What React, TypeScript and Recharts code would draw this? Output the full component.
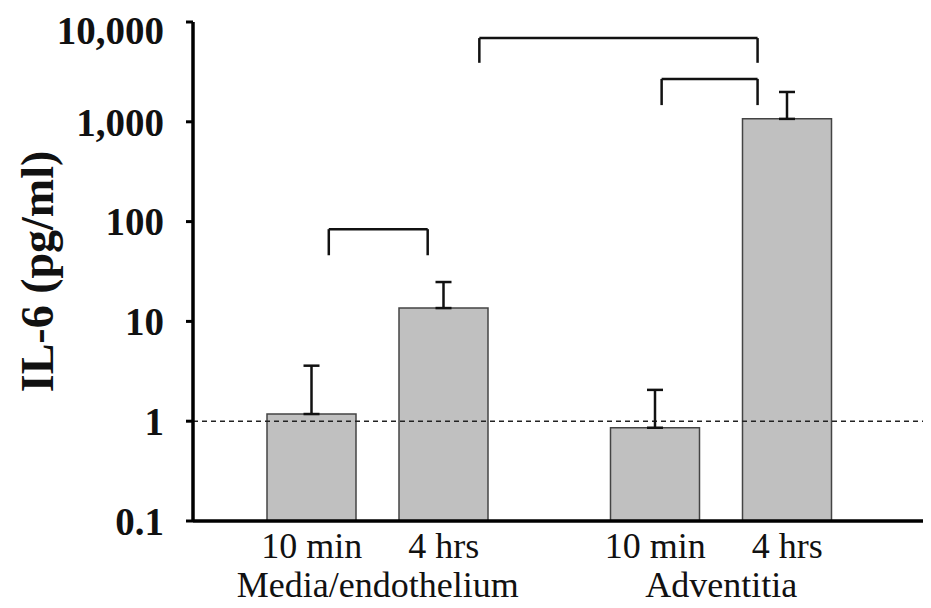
import { ComposedChart, Bar, XAxis, YAxis, ErrorBar, ReferenceLine } from "recharts";

const groups = ["Media/endothelium", "Adventitia"];
const timeLabels = ["10 min", "4 hrs"];
const min10 = [1.18, 0.86];
const hrs4 = [13.6, 1070];
const min10Upper = [3.6, 2.06];
const hrs4Upper = [24.8, 1990];
const yTicks = [0.1, 1, 10, 100, 1000, 10000];

// significance brackets: x as % of plot width, y in pg/ml
const bracketLeft = [18.4, 38.8, 63.5];
const bracketRight = [31.8, 76.5, 76.5];
const bracketTop = [84, 6900, 2690];
const bracketFoot = [46, 3900, 1470];

const FONT = "'Liberation Serif', 'Times New Roman', serif";
const BAR_SIZE = 89;
const BAR_GAP = 43;

const data = groups.map((g, i) => ({
  group: g,
  min10: min10[i],
  hrs4: hrs4[i],
  min10Err: [0, min10Upper[i] - min10[i]],
  hrs4Err: [0, hrs4Upper[i] - hrs4[i]],
  pct: i * 100, // only feeds the hidden 0-100 axis used for the brackets
}));

function GroupTick({ x, y, payload }: any) {
  const half = (BAR_SIZE + BAR_GAP) / 2;
  const style = { fontFamily: FONT, fontSize: 36, fill: "#111" };
  return (
    <g>
      <text x={x - half} y={y + 29} textAnchor="middle" style={style}>
        {timeLabels[0]}
      </text>
      <text x={x + half} y={y + 29} textAnchor="middle" style={style}>
        {timeLabels[1]}
      </text>
      <text x={x} y={y + 68} textAnchor="middle" style={style}>
        {payload.value}
      </text>
    </g>
  );
}

const fmt = (v: number) => (v >= 1000 ? v.toLocaleString("en-US") : String(v));

const segments = bracketLeft.flatMap((l, i) => [
  [{ x: l, y: bracketFoot[i] }, { x: l, y: bracketTop[i] }],
  [{ x: l, y: bracketTop[i] }, { x: bracketRight[i], y: bracketTop[i] }],
  [{ x: bracketRight[i], y: bracketTop[i] }, { x: bracketRight[i], y: bracketFoot[i] }],
]);

export default function App() {
  return (
    <ComposedChart
      width={923}
      height={600}
      data={data}
      margin={{ top: 14, right: 0, bottom: 7, left: 0 }}
      barSize={BAR_SIZE}
      barGap={BAR_GAP}
    >
      <XAxis
        dataKey="group"
        height={80}
        padding={{ left: 13, right: 38 }}
        axisLine={{ stroke: "#000", strokeWidth: 3.5 }}
        tickLine={false}
        tick={<GroupTick />}
        interval={0}
      />
      <XAxis xAxisId="b" dataKey="pct" type="number" domain={[0, 100]} hide allowDataOverflow />
      <YAxis
        width={185}
        scale="log"
        domain={[0.1, 10000]}
        allowDataOverflow
        ticks={yTicks}
        tickFormatter={fmt}
        axisLine={{ stroke: "#000", strokeWidth: 3.5 }}
        tickLine={{ stroke: "#000", strokeWidth: 3 }}
        tickSize={7}
        tickMargin={22}
        tick={{ fontFamily: FONT, fontSize: 39, fontWeight: 700, fill: "#111" }}
        label={{
          value: "IL-6 (pg/ml)",
          angle: -90,
          position: "insideLeft",
          offset: 29,
          style: { textAnchor: "middle", fontFamily: FONT, fontSize: 46, fontWeight: 700, fill: "#111" },
        }}
      />
      <ReferenceLine y={1} stroke="#222" strokeWidth={1.5} strokeDasharray="5 4" />
      <Bar dataKey="min10" fill="#c0c0c0" stroke="#444" strokeWidth={1.5} isAnimationActive={false}>
        <ErrorBar dataKey="min10Err" width={8} stroke="#111" strokeWidth={2.5} isAnimationActive={false} />
      </Bar>
      <Bar dataKey="hrs4" fill="#c0c0c0" stroke="#444" strokeWidth={1.5} isAnimationActive={false}>
        <ErrorBar dataKey="hrs4Err" width={8} stroke="#111" strokeWidth={2.5} isAnimationActive={false} />
      </Bar>
      {segments.map((seg, i) => (
        <ReferenceLine key={i} xAxisId="b" segment={seg} stroke="#111" strokeWidth={2.5} />
      ))}
    </ComposedChart>
  );
}
